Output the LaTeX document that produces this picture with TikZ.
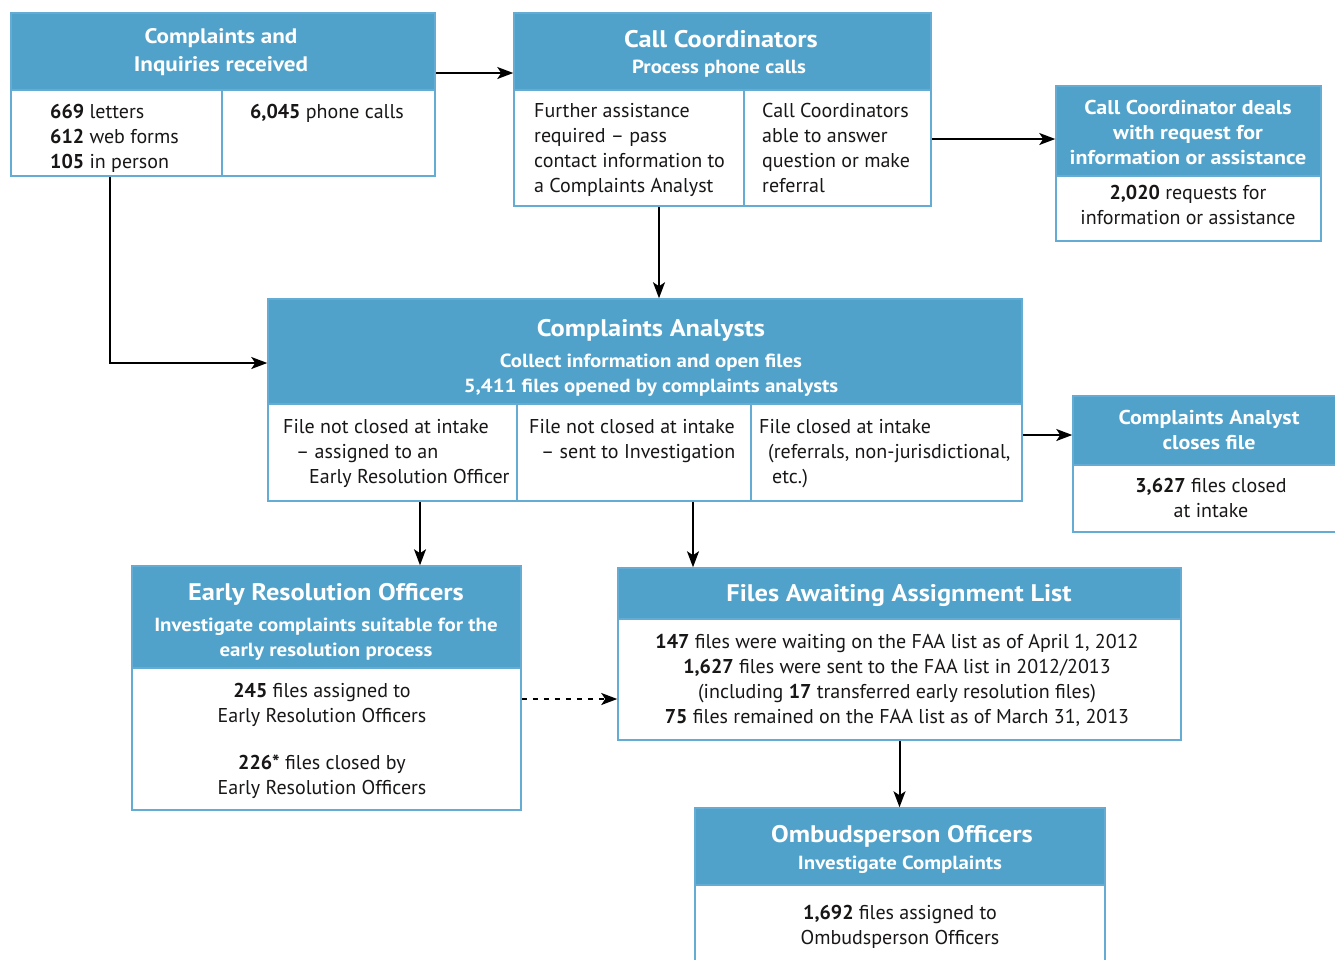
\documentclass[tikz,border=0pt]{standalone}
\usepackage{fontspec}
\setmainfont{PT Sans}
\newfontfamily\hdrfont{PT Sans}[FakeStretch=1.1]
\usetikzlibrary{arrows.meta}
\definecolor{hdrblue}{RGB}{80,162,202}
\definecolor{bordblue}{RGB}{100,172,212}
\definecolor{ink}{RGB}{25,22,22}
\newcommand\topst{\rule{0pt}{1em}}
\begin{document}
\begin{tikzpicture}[x=1pt,y=-1pt,
 hdr/.style={fill=hdrblue,draw=bordblue,line width=1.5pt,inner sep=0pt},
 cell/.style={fill=white,draw=bordblue,line width=1.5pt,inner sep=0pt},
 ttl/.style={text=white,inner sep=0pt,anchor=north,align=center,font=\hdrfont\bfseries\fontsize{24}{29}\selectfont},
 hd/.style={text=white,inner sep=0pt,anchor=north,align=center,font=\hdrfont\bfseries\fontsize{20}{25}\selectfont},
 sub/.style={text=white,inner sep=0pt,anchor=north,align=center,font=\hdrfont\bfseries\fontsize{19}{25}\selectfont},
 txt/.style={text=ink,inner sep=0pt,anchor=north,align=center,font=\fontsize{20}{25}\selectfont},
 ltxt/.style={txt,anchor=north west,align=left},
 arr/.style={line width=2pt,-{Stealth[length=16pt,width=12pt,inset=4pt]}},
]
\useasboundingbox[fill=white] (0,0) rectangle (1335,959);

% ---- Box A: Complaints and Inquiries received
\node[hdr,minimum width=424pt,minimum height=77pt] (aH) at (223,51.5) {};
\node[cell,minimum width=211pt,minimum height=86pt] (aL) at (116.5,133) {};
\node[cell,minimum width=213pt,minimum height=86pt] (aR) at (328.5,133) {};
\node[hd,font=\hdrfont\bfseries\fontsize{21}{28}\selectfont] (aT) at (221,22) {\topst Complaints and\\Inquiries received};
\node[ltxt] (aLt) at (50,98) {\topst\textbf{669} letters\\\textbf{612} web forms\\\textbf{105} in person};
\node[txt] (aRt) at (327,98) {\topst\textbf{6,045} phone calls};

% ---- Box B: Call Coordinators
\node[hdr,minimum width=417pt,minimum height=77pt] (bH) at (722.5,51.5) {};
\node[cell,minimum width=230pt,minimum height=116pt] (bL) at (629,148) {};
\node[cell,minimum width=187pt,minimum height=116pt] (bR) at (837.5,148) {};
\node[ttl] (bT) at (721,23) {\topst Call Coordinators};
\node[sub] (bS) at (719,54) {\topst Process phone calls};
\node[ltxt] (bLt) at (534,97) {\topst Further assistance\\required -- pass\\contact information to\\a Complaints Analyst};
\node[ltxt] (bRt) at (762,97) {\topst Call Coordinators\\able to answer\\question or make\\referral};

% ---- Box C: Call Coordinator deals
\node[hdr,minimum width=265pt,minimum height=90pt] (cH) at (1188.5,131) {};
\node[cell,minimum width=265pt,minimum height=65pt] (cB) at (1188.5,208.5) {};
\node[hd] (cT) at (1188,94) {\topst Call Coordinator deals\\with request for\\information or assistance};
\node[txt] (cBt) at (1188,179) {\topst\textbf{2,020} requests for\\information or assistance};

% ---- Box D: Complaints Analysts
\node[hdr,minimum width=754pt,minimum height=105pt] (dH) at (645,351.5) {};
\node[cell,minimum width=249pt,minimum height=97pt] (dL) at (392.5,452.5) {};
\node[cell,minimum width=234pt,minimum height=97pt] (dM) at (634,452.5) {};
\node[cell,minimum width=271pt,minimum height=97pt] (dR) at (886.5,452.5) {};
\node[ttl] (dT) at (651,312) {\topst Complaints Analysts};
\node[sub] (dS) at (651,348) {\topst Collect information and open files\\5,411 files opened by complaints analysts};
\node[ltxt] (dLt) at (283,413) {\topst File not closed at intake\\\hspace*{13pt}-- assigned to an\\\hspace*{26pt}Early Resolution Officer};
\node[ltxt] (dMt) at (529,413) {\topst File not closed at intake\\\hspace*{12pt}-- sent to Investigation};
\node[ltxt] (dRt) at (759,413) {\topst File closed at intake\\\hspace*{9pt}(referrals, non-jurisdictional,\\\hspace*{13pt}etc.)};

% ---- Box E: Complaints Analyst closes file
\node[hdr,minimum width=267pt,minimum height=69pt] (eH) at (1206.5,430.5) {};
\node[cell,minimum width=267pt,minimum height=67pt] (eB) at (1206.5,498.5) {};
\node[hd] (eT) at (1209,404) {\topst Complaints Analyst\\closes file};
\node[txt] (eBt) at (1211,472) {\topst\textbf{3,627} files closed\\at intake};

% ---- Box F: Early Resolution Officers
\node[hdr,minimum width=389pt,minimum height=102pt] (fH) at (326.5,617) {};
\node[cell,minimum width=389pt,minimum height=142pt] (fB) at (326.5,739) {};
\node[ttl] (fT) at (326,576) {\topst Early Resolution Officers};
\node[sub] (fS) at (326,612) {\topst Investigate complaints suitable for the\\early resolution process};
\node[txt] (fBt) at (322,677) {\topst\textbf{245} files assigned to\\Early Resolution Officers\\[22pt]\textbf{226*} files closed by\\Early Resolution Officers};

% ---- Box G: Files Awaiting Assignment List
\node[hdr,minimum width=563pt,minimum height=51pt] (gH) at (899.5,593.5) {};
\node[cell,minimum width=563pt,minimum height=121pt] (gB) at (899.5,679.5) {};
\node[ttl] (gT) at (899,577) {\topst Files Awaiting Assignment List};
\node[txt] (gBt) at (897,628) {\topst\textbf{147} files were waiting on the FAA list as of April 1, 2012\\\textbf{1,627} files were sent to the FAA list in 2012/2013\\(including \textbf{17} transferred early resolution files)\\\textbf{75} files remained on the FAA list as of March 31, 2013};

% ---- Box H: Ombudsperson Officers
\node[hdr,minimum width=410pt,minimum height=77pt] (hH) at (900,846.5) {};
\node[cell,minimum width=410pt,minimum height=90pt] (hB) at (900,930) {};
\node[ttl] (hT) at (902,818) {\topst Ombudsperson Officers};
\node[sub] (hS) at (900,850) {\topst Investigate Complaints};
\node[txt] (hBt) at (900,899) {\topst\textbf{1,692} files assigned to\\Ombudsperson Officers};

% ---- connectors
\draw[arr] ([yshift=-21.5pt]aH.east) -- ([yshift=-21.5pt]aH.east -| bH.west);
\draw[arr] ([yshift=9pt]bR.east) -- ([yshift=9pt]bR.east -| cH.west);
\draw[arr] ([xshift=-6.5pt]aL.south) |- ([yshift=-11.5pt]dH.west);
\draw[arr] ([xshift=30pt]bL.south) -- ([xshift=30pt]bL.south |- dH.north);
\draw[arr] ([yshift=17.5pt]dR.east) -- ([yshift=17.5pt]dR.east -| eH.west);
\draw[arr] ([xshift=27.5pt]dL.south) -- ([xshift=27.5pt]dL.south |- fH.north);
\draw[arr] ([xshift=59pt]dM.south) -- ([xshift=59pt]dM.south |- gH.north);
\draw[arr,dash pattern=on 5pt off 6pt] ([yshift=40pt]fB.east) -- ([yshift=40pt]fB.east -| gB.west);
\draw[arr] (gB.south) -- (gB.south |- hH.north);
\end{tikzpicture}
\end{document}
